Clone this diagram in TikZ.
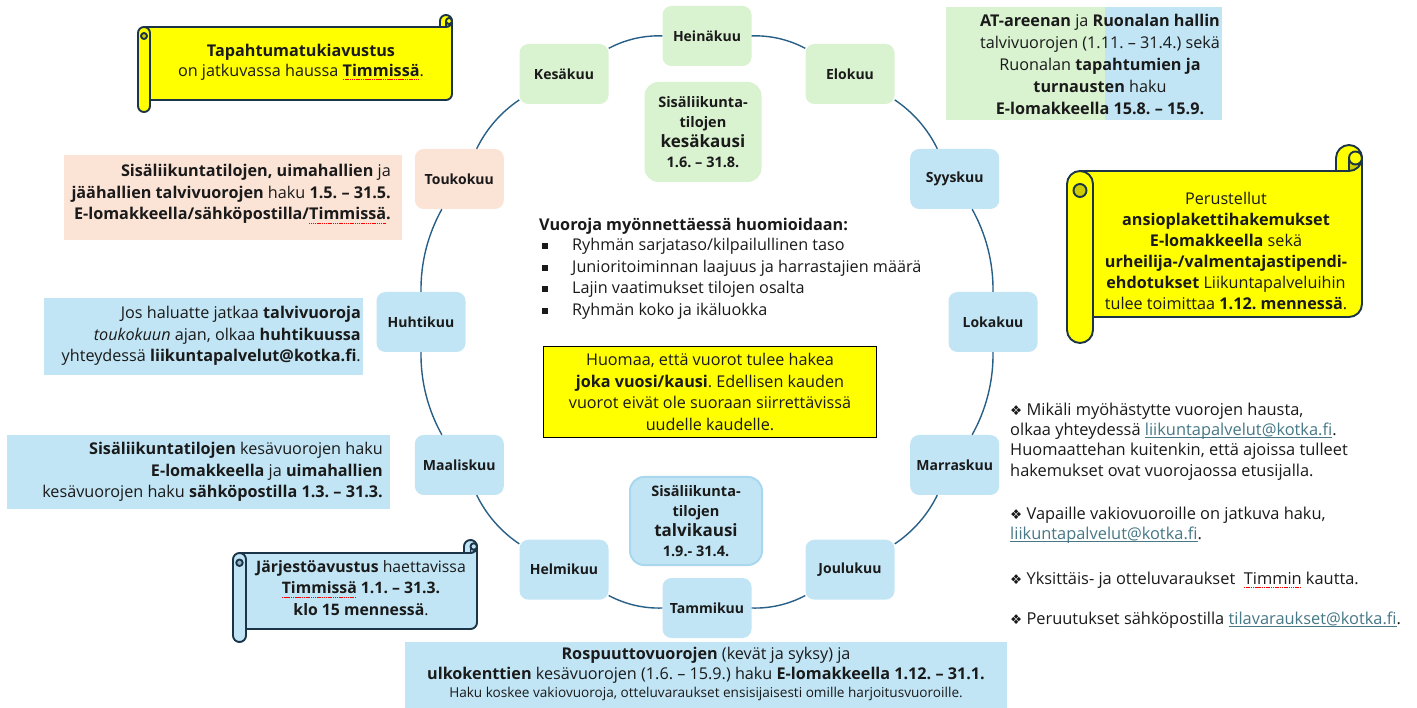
\documentclass[tikz,border=0pt]{standalone}
\usepackage{fontspec}
\setmainfont{Open Sans}
\newfontfamily\djv{DejaVu Sans}
\definecolor{txt}{HTML}{1A1A1A}
\definecolor{mgreen}{HTML}{D9F2D0}
\definecolor{mblue}{HTML}{C1E5F5}
\definecolor{mpeach}{HTML}{FBE3D6}
\definecolor{ringc}{HTML}{275F86}
\definecolor{linkc}{HTML}{467886}
\definecolor{scrl}{HTML}{1C3448}
\definecolor{ylw}{HTML}{FFFF00}
\definecolor{ylwd}{HTML}{CCCC00}
\definecolor{blued}{HTML}{94B7C8}
\definecolor{tbord}{HTML}{A9D8EE}
\newcommand\lnk[1]{\textcolor{linkc}{\setbox0=\hbox{#1}\rlap{\rule[-2.6pt]{\wd0}{0.8pt}}\box0\relax}}
\newcommand\spell[1]{\setbox0=\hbox{#1}\rlap{\raisebox{-3.4pt}{\textcolor{red}{\hbox to \wd0{\xleaders\hbox{\rule{1.2pt}{0.5pt}\kern0.6pt}\hfill}}}}\box0\relax}
\newcommand\bul{{\djv\fontsize{13.5}{13}\selectfont ❖}}
% horizontal scroll: x0 y0 x1 y1 ch fill dark
\newcommand\hscroll[7]{%
 \pgfmathsetmacro\sca{#5/2}%
 \pgfmathsetmacro\scb{#5/4}%
 \pgfmathsetmacro\scyA{#2+#5}%
 \pgfmathsetmacro\scyB{#2+#5/2}%
 \pgfmathsetmacro\scyC{#2+1.5*#5}%
 \pgfmathsetmacro\scyD{#2+1.5*#5+#5/4}%
 \pgfmathsetmacro\scyF{#4-#5}%
 \pgfmathsetmacro\scyG{#4-#5/2}%
 \pgfmathsetmacro\scyE{#4-1.5*#5}%
 \pgfmathsetmacro\scxC{#3-#5}%
 \pgfmathsetmacro\scxD{#3-#5/2}%
 \pgfmathsetmacro\scxL{#1+#5}%
 \pgfmathsetmacro\scxM{#1+#5/2}%
 \draw[scrollline, fill=#6] (#1,\scyC) arc[start angle=180, delta angle=90, radius=\sca]
   -- (\scxC,\scyA) -- (\scxC,\scyB) arc[start angle=180, delta angle=180, radius=\sca]
   -- (#3,\scyE) arc[start angle=0, delta angle=90, radius=\sca]
   -- (\scxL,\scyF) -- (\scxL,\scyG) arc[start angle=0, delta angle=180, radius=\sca] -- cycle;
 \fill[#7] (\scxD,\scyA) arc[start angle=90, delta angle=-90, radius=\sca]
   arc[start angle=0, delta angle=180, radius=\scb] -- cycle;
 \draw[scrollline] (\scxC,\scyA) -- (\scxD,\scyA) arc[start angle=90, delta angle=-90, radius=\sca]
   arc[start angle=0, delta angle=360, radius=\scb];
 \draw[scrollline] (\scxD,\scyA) -- (\scxD,\scyB);
 \fill[#7] (\scxM,\scyD) circle[radius=\scb];
 \draw[scrollline] (\scxM,\scyD) circle[radius=\scb];
 \draw[scrollline] (\scxM,\scyA) arc[start angle=270, delta angle=90, radius=\sca] -- (\scxL,\scyF);
}
\begin{document}
\frenchspacing
\begin{tikzpicture}[x=1pt,y=-1pt,
  scrollline/.style={draw=scrl, line width=1.9, line join=round},
  base/.style={font=\fontsize{16.2}{21.5}\selectfont, text=txt, inner sep=0},
  month/.style={rounded corners=9, minimum width=89, minimum height=60, inner sep=0,
    font=\fontsize{14}{16}\selectfont\bfseries, text=txt},
  season/.style={rounded corners=14, inner sep=0, align=center, text=txt,
    font=\fontsize{14.5}{20}\selectfont\bfseries},
  ring/.style={draw=ringc, line width=1.4},
  bsq/.style={fill=txt, minimum size=5.5, inner sep=0}]
\useasboundingbox (0,0) rectangle (1417,708);
\fill[white] (0,0) rectangle (1417,708);

% months
\node[month, fill=mgreen] (hei) at (707,36) {Heinäkuu};
\node[month, fill=mgreen] (elo) at (850,74) {Elokuu};
\node[month, fill=mblue] (syy) at (954.7,179) {Syyskuu};
\node[month, fill=mblue] (lok) at (993,322) {Lokakuu};
\node[month, fill=mblue] (mar) at (954.7,465) {Marraskuu};
\node[month, fill=mblue] (jou) at (850,569.7) {Joulukuu};
\node[month, fill=mblue] (tam) at (707,608) {Tammikuu};
\node[month, fill=mblue] (hel) at (564,569.7) {Helmikuu};
\node[month, fill=mblue] (maa) at (459.3,465) {Maaliskuu};
\node[month, fill=mblue] (huh) at (421,322) {Huhtikuu};
\node[month, fill=mpeach] (tou) at (459.3,179) {Toukokuu};
\node[month, fill=mgreen] (kes) at (564,74) {Kesäkuu};

\foreach \a/\b in {hei/elo,elo/syy,syy/lok,lok/mar,mar/jou,jou/tam,tam/hel,hel/maa,maa/huh,huh/tou,tou/kes,kes/hei}
  \draw[ring] (\a) to[bend left=15, looseness=0.87] (\b);

% season boxes
\node[season, fill=mgreen, minimum width=117, minimum height=100] (kesa) at (703,132)
  {Sisäliikunta-\\tilojen\\{\fontsize{17}{20}\selectfont kesäkausi}\\1.6. – 31.8.};
\node[season, fill=mblue, draw=tbord, line width=2, minimum width=132, minimum height=88] (talvi) at (696,521)
  {Sisäliikunta-\\tilojen\\{\fontsize{17}{20}\selectfont talvikausi}\\1.9.- 31.4.};

% center list
\node[base, anchor=west, font=\fontsize{16.2}{21.5}\selectfont\bfseries] (vh) at (539,226) {Vuoroja myönnettäessä huomioidaan:};
\node[bsq] (q1) at (545,246) {};
\node[bsq] (q2) at (545,268) {};
\node[bsq] (q3) at (545,289) {};
\node[bsq] (q4) at (545,311) {};
\node[base, anchor=west] (v1) at (572,246) {Ryhmän sarjataso/kilpailullinen taso};
\node[base, anchor=west] (v2) at (572,268) {Junioritoiminnan laajuus ja harrastajien määrä};
\node[base, anchor=west] (v3) at (572,289) {Lajin vaatimukset tilojen osalta};
\node[base, anchor=west] (v4) at (572,311) {Ryhmän koko ja ikäluokka};

\node[base, draw=black, line width=1.8, fill=ylw, minimum width=333, minimum height=91, align=center] (huom) at (710,392)
  {Huomaa, että vuorot tulee hakea\\\textbf{joka vuosi/kausi}. Edellisen kauden\\vuorot eivät ole suoraan siirrettävissä\\uudelle kaudelle.};

% top-left scroll
\hscroll{138}{15}{452}{112}{12}{ylw}{ylwd}
\node[base, align=center, font=\fontsize{16.2}{20}\selectfont] (tap) at (301,62)
  {\textbf{Tapahtumatukiavustus}\\on jatkuvassa haussa \textbf{\spell{Timmissä}}.};

% top-right box
\fill[mgreen] (946,7) rectangle (1105,120);
\fill[mblue] (1105,7) rectangle (1222,120);
\node[base, align=center, font=\fontsize{16.2}{22}\selectfont] (at) at (1100,64)
  {\textbf{AT-areenan} ja \textbf{Ruonalan hallin}\\talvivuorojen (1.11. – 31.4.) sekä\\Ruonalan \textbf{tapahtumien ja}\\\textbf{turnausten} haku\\\textbf{E-lomakkeella 15.8. – 15.9.}};

% right scroll
\hscroll{1067}{145}{1362}{343}{26}{ylw}{ylwd}
\node[base, align=center, font=\fontsize{16.2}{21}\selectfont] (ans) at (1226,251)
  {Perustellut\\\textbf{ansioplakettihakemukset}\\\textbf{E-lomakkeella} sekä\\\textbf{urheilija-/valmentajastipendi-}\\\textbf{ehdotukset} Liikuntapalveluihin\\tulee toimittaa \textbf{1.12. mennessä}.};

% left boxes
\fill[mpeach] (64,155) rectangle (402,240);
\node[base, align=right, anchor=east] (sis1) at (391,194)
  {\textbf{Sisäliikuntatilojen, uimahallien} ja\\\textbf{jäähallien talvivuorojen} haku \textbf{1.5. – 31.5.}\\\textbf{E-lomakkeella/sähköpostilla/\spell{Timmissä}.}};
\fill[mblue] (44,298) rectangle (363,375);
\node[base, align=right, anchor=east] (jos) at (361,336)
  {Jos haluatte jatkaa \textbf{talvivuoroja}\\\textit{toukokuun} ajan, olkaa \textbf{huhtikuussa}\\yhteydessä \textbf{liikuntapalvelut@kotka.fi}.};
\fill[mblue] (7,435) rectangle (390,509);
\node[base, align=right, anchor=east] (sis2) at (383,472)
  {\textbf{Sisäliikuntatilojen} kesävuorojen haku\\\textbf{E-lomakkeella} ja \textbf{uimahallien}\\kesävuorojen haku \textbf{sähköpostilla 1.3. – 31.3.}};

% blue scroll
\hscroll{233}{540}{477}{642}{13}{mblue}{blued}
\node[base, align=center, font=\fontsize{15.8}{21.5}\selectfont] (jar) at (361,588)
  {\textbf{Järjestöavustus} haettavissa\\\textbf{\spell{Timmissä} 1.1. – 31.3.}\\\textbf{klo 15 mennessä}.};

% bottom box
\fill[mblue] (405,642) rectangle (1007,708);
\node[base, align=center, font=\fontsize{16.2}{20}\selectfont] (rosp) at (706,665)
  {\textbf{Rospuuttovuorojen} (kevät ja syksy) ja\\\textbf{ulkokenttien} kesävuorojen (1.6. – 15.9.) haku \textbf{E-lomakkeella 1.12. – 31.1.}};
\node[base, font=\fontsize{13.6}{14}\selectfont] (haku) at (706,694)
  {Haku koskee vakiovuoroja, otteluvaraukset ensisijaisesti omille harjoitusvuoroille.};

% right notes
\node[base, align=left, anchor=west, font=\fontsize{16.4}{20.3}\selectfont] (n1) at (1010,441.5)
  {\bul\ Mikäli myöhästytte vuorojen hausta,\\olkaa yhteydessä \lnk{liikuntapalvelut@kotka.fi}.\\Huomaattehan kuitenkin, että ajoissa tulleet\\hakemukset ovat vuorojaossa etusijalla.};
\node[base, align=left, anchor=west, font=\fontsize{16.4}{20.3}\selectfont] (n2) at (1010,525)
  {\bul\ Vapaille vakiovuoroille on jatkuva haku,\\\lnk{liikuntapalvelut@kotka.fi}.};
\node[base, anchor=west, font=\fontsize{16.4}{20.3}\selectfont] (n3) at (1010,580)
  {\bul\ Yksittäis- ja otteluvaraukset\ \ \spell{Timmin} kautta.};
\node[base, anchor=west, font=\fontsize{16.4}{20.3}\selectfont] (n4) at (1010,620)
  {\bul\ Peruutukset sähköpostilla \lnk{tilavaraukset@kotka.fi}.};
\end{tikzpicture}
\end{document}
